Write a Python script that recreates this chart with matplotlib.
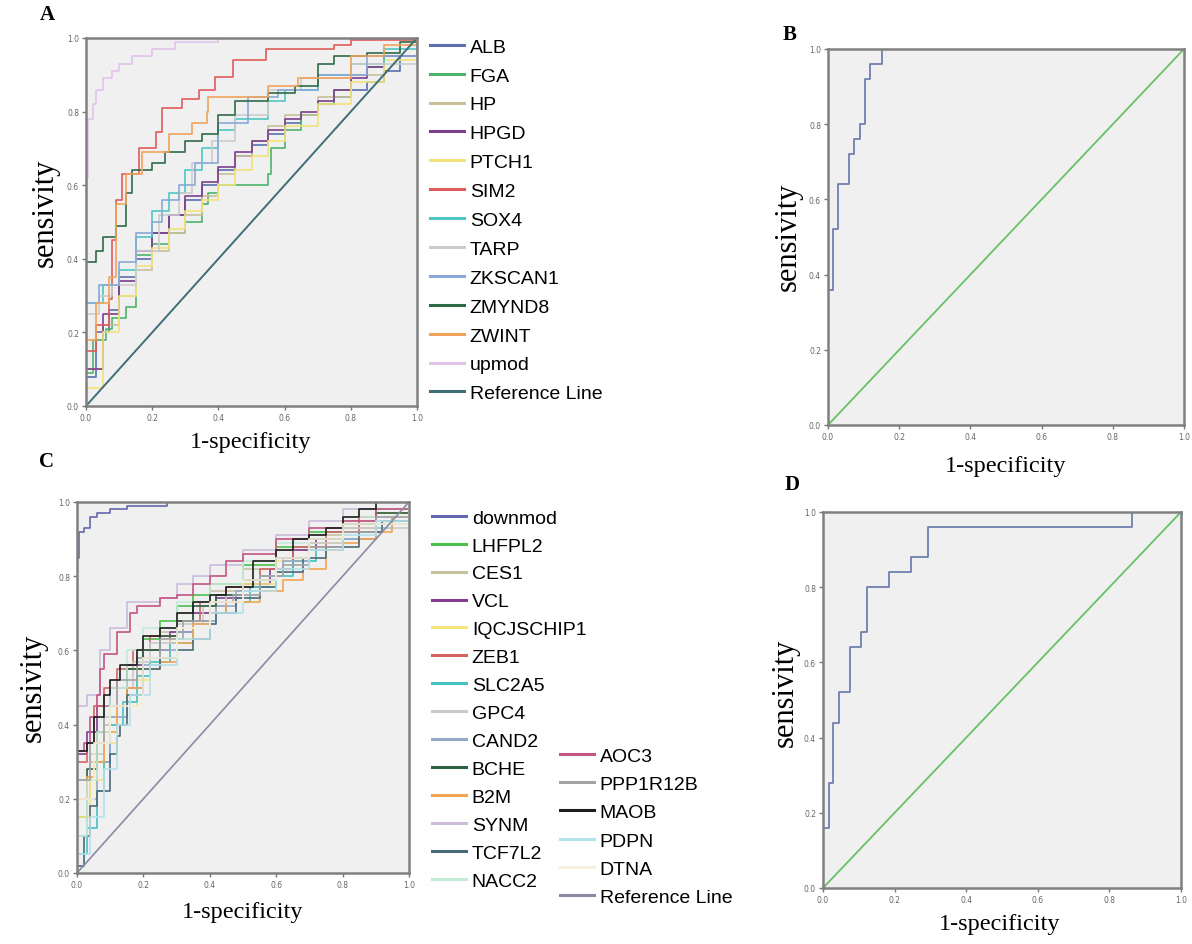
import matplotlib.pyplot as plt
from matplotlib.lines import Line2D

# ---------------- panel A : up-regulated genes ----------------
a_names = ["ALB", "FGA", "HP", "HPGD", "PTCH1", "SIM2", "SOX4", "TARP",
           "ZKSCAN1", "ZMYND8", "ZWINT", "upmod"]

alb = [(0, 0), (0, 0.08), (0.03, 0.2), (0.07, 0.26), (0.1, 0.35), (0.15, 0.4), (0.2, 0.47),
       (0.25, 0.52), (0.3, 0.56), (0.35, 0.6), (0.4, 0.64), (0.45, 0.68), (0.5, 0.71),
       (0.55, 0.74), (0.6, 0.77), (0.65, 0.79), (0.7, 0.82), (0.75, 0.84), (0.8, 0.86),
       (0.85, 0.88), (0.9, 0.91), (0.95, 0.95), (1, 1)]
fga = [(0, 0), (0, 0.09), (0.02, 0.09), (0.02, 0.18), (0.06, 0.18), (0.06, 0.21), (0.08, 0.24),
       (0.12, 0.27), (0.15, 0.36), (0.15, 0.41), (0.2, 0.44), (0.25, 0.47), (0.3, 0.5),
       (0.35, 0.55), (0.37, 0.58), (0.4, 0.6), (0.55, 0.6), (0.55, 0.63), (0.56, 0.7),
       (0.6, 0.75), (0.65, 0.79), (0.7, 0.82), (0.75, 0.86), (0.8, 0.9), (0.85, 0.92),
       (0.9, 0.95), (1, 1)]
hp = [(0, 0), (0, 0.1), (0.05, 0.22), (0.1, 0.3), (0.15, 0.37), (0.2, 0.42), (0.25, 0.47),
      (0.3, 0.52), (0.35, 0.57), (0.4, 0.63), (0.45, 0.68), (0.5, 0.72), (0.55, 0.76),
      (0.6, 0.79), (0.7, 0.84), (0.8, 0.9), (0.9, 0.95), (1, 1)]
hpgd = [(0, 0), (0, 0.1), (0.05, 0.25), (0.1, 0.34), (0.15, 0.42), (0.2, 0.47), (0.25, 0.52),
        (0.3, 0.57), (0.35, 0.61), (0.4, 0.65), (0.45, 0.69), (0.5, 0.72), (0.55, 0.75),
        (0.6, 0.78), (0.65, 0.8), (0.7, 0.83), (0.75, 0.86), (0.8, 0.89), (0.85, 0.92),
        (0.9, 0.95), (1, 1)]
ptch1 = [(0, 0), (0, 0.05), (0.05, 0.2), (0.1, 0.3), (0.15, 0.38), (0.2, 0.43), (0.25, 0.48),
         (0.3, 0.53), (0.35, 0.56), (0.4, 0.6), (0.45, 0.64), (0.5, 0.68), (0.55, 0.72),
         (0.6, 0.76), (0.7, 0.82), (0.8, 0.88), (0.9, 0.94), (1, 1)]
sim2 = [(0, 0), (0, 0.15), (0.03, 0.22), (0.07, 0.29), (0.08, 0.45), (0.09, 0.56), (0.11, 0.63),
        (0.16, 0.7), (0.21, 0.745), (0.23, 0.81), (0.29, 0.835), (0.34, 0.86), (0.39, 0.895),
        (0.445, 0.94), (0.545, 0.97), (0.75, 0.98), (0.8, 0.995), (1, 1)]
sox4 = [(0, 0), (0, 0.28), (0.05, 0.33), (0.1, 0.37), (0.15, 0.46), (0.2, 0.53), (0.25, 0.58),
        (0.3, 0.64), (0.35, 0.7), (0.4, 0.75), (0.45, 0.78), (0.55, 0.83), (0.6, 0.86),
        (0.7, 0.9), (0.8, 0.93), (0.9, 0.97), (1, 1)]
tarp = [(0, 0), (0, 0.25), (0.04, 0.3), (0.08, 0.33), (0.15, 0.42), (0.22, 0.52), (0.28, 0.58),
        (0.32, 0.66), (0.38, 0.72), (0.45, 0.79), (0.55, 0.86), (0.65, 0.89), (0.8, 0.93), (1, 1)]
zkscan1 = [(0, 0), (0, 0.28), (0.04, 0.33), (0.1, 0.39), (0.15, 0.47), (0.2, 0.5), (0.23, 0.56),
           (0.28, 0.6), (0.33, 0.66), (0.4, 0.77), (0.49, 0.77), (0.49, 0.84), (0.58, 0.86),
           (0.7, 0.9), (0.85, 0.95), (1, 1)]
zmynd8 = [(0, 0), (0, 0.39), (0.03, 0.42), (0.05, 0.46), (0.09, 0.49), (0.12, 0.58), (0.14, 0.64),
          (0.2, 0.66), (0.24, 0.69), (0.3, 0.72), (0.35, 0.74), (0.4, 0.79), (0.45, 0.83),
          (0.55, 0.85), (0.63, 0.87), (0.7, 0.93), (0.75, 0.95), (0.85, 0.96), (0.95, 0.99), (1, 1)]
zwint = [(0, 0), (0, 0.18), (0.03, 0.28), (0.07, 0.35), (0.09, 0.55), (0.12, 0.63), (0.17, 0.69),
         (0.25, 0.74), (0.32, 0.77), (0.365, 0.8), (0.37, 0.84), (0.55, 0.87), (0.64, 0.89),
         (0.8, 0.95), (0.9, 0.98), (1, 1)]
upmod = [(0, 0), (0, 0.62), (0.005, 0.78), (0.02, 0.82), (0.03, 0.86), (0.05, 0.89), (0.08, 0.91),
         (0.1, 0.93), (0.14, 0.95), (0.2, 0.97), (0.27, 0.99), (0.4, 1.0), (1, 1)]
a_curves = [alb, fga, hp, hpgd, ptch1, sim2, sox4, tarp, zkscan1, zmynd8, zwint, upmod]

# ---------------- panel B : upmod model ----------------
b_fpr = [0, 0, 0.014, 0.028, 0.058, 0.073, 0.089, 0.105, 0.117, 0.152, 1.0]
b_tpr = [0, 0.36, 0.52, 0.64, 0.72, 0.76, 0.80, 0.92, 0.96, 1.0, 1.0]

# ---------------- panel C : down-regulated genes ----------------
c_names1 = ["downmod", "LHFPL2", "CES1", "VCL", "IQCJSCHIP1", "ZEB1", "SLC2A5", "GPC4",
            "CAND2", "BCHE", "B2M", "SYNM", "TCF7L2", "NACC2"]
c_names2 = ["AOC3", "PPP1R12B", "MAOB", "PDPN", "DTNA"]

downmod = [(0, 0), (0, 0.85), (0.005, 0.92), (0.02, 0.93), (0.04, 0.96), (0.06, 0.97),
           (0.1, 0.98), (0.15, 0.99), (0.27, 1.0), (1, 1)]
lhfpl2 = [(0, 0), (0, 0.15), (0.03, 0.25), (0.06, 0.35), (0.1, 0.45), (0.15, 0.55), (0.2, 0.63),
          (0.25, 0.68), (0.3, 0.72), (0.35, 0.75), (0.4, 0.78), (0.5, 0.83), (0.6, 0.88),
          (0.7, 0.92), (0.8, 0.95), (0.9, 0.98), (1, 1)]
ces1 = [(0, 0), (0, 0.2), (0.04, 0.3), (0.08, 0.4), (0.12, 0.5), (0.18, 0.58), (0.25, 0.65),
        (0.3, 0.7), (0.4, 0.76), (0.5, 0.82), (0.6, 0.87), (0.7, 0.91), (0.8, 0.95), (1, 1)]
vcl = [(0, 0), (0, 0.32), (0.03, 0.38), (0.06, 0.45), (0.1, 0.5), (0.15, 0.56), (0.2, 0.6),
       (0.28, 0.65), (0.35, 0.7), (0.42, 0.74), (0.5, 0.78), (0.58, 0.82), (0.65, 0.87),
       (0.72, 0.9), (0.8, 0.93), (0.9, 0.97), (1, 1)]
iqcjschip1 = [(0, 0), (0, 0.15), (0.04, 0.25), (0.08, 0.35), (0.12, 0.45), (0.18, 0.52),
              (0.22, 0.57), (0.28, 0.63), (0.35, 0.68), (0.42, 0.73), (0.5, 0.78), (0.6, 0.84),
              (0.7, 0.89), (0.8, 0.93), (0.9, 0.97), (1, 1)]
zeb1 = [(0, 0), (0, 0.3), (0.03, 0.35), (0.05, 0.45), (0.08, 0.5), (0.12, 0.55), (0.17, 0.6),
        (0.22, 0.64), (0.3, 0.68), (0.37, 0.73), (0.45, 0.77), (0.55, 0.82), (0.65, 0.88),
        (0.75, 0.92), (0.85, 0.96), (1, 1)]
slc2a5 = [(0, 0), (0, 0.05), (0.03, 0.12), (0.06, 0.22), (0.08, 0.3), (0.1, 0.4), (0.14, 0.46),
          (0.18, 0.53), (0.22, 0.57), (0.28, 0.62), (0.35, 0.67), (0.4, 0.7), (0.45, 0.73),
          (0.52, 0.77), (0.6, 0.8), (0.65, 0.84), (0.72, 0.87), (0.8, 0.9), (0.9, 0.93),
          (0.95, 0.96), (1, 1)]
gpc4 = [(0, 0), (0, 0.25), (0.04, 0.32), (0.08, 0.42), (0.12, 0.5), (0.17, 0.57), (0.22, 0.62),
        (0.3, 0.67), (0.38, 0.72), (0.45, 0.75), (0.55, 0.8), (0.62, 0.85), (0.7, 0.89),
        (0.8, 0.93), (1, 1)]
cand2 = [(0, 0), (0, 0.1), (0.03, 0.2), (0.06, 0.3), (0.1, 0.42), (0.15, 0.5), (0.2, 0.56),
         (0.25, 0.6), (0.3, 0.65), (0.35, 0.68), (0.42, 0.72), (0.48, 0.76), (0.55, 0.8),
         (0.62, 0.84), (0.7, 0.87), (0.8, 0.9), (0.9, 0.94), (1, 1)]
bche = [(0, 0), (0, 0.2), (0.03, 0.28), (0.06, 0.38), (0.1, 0.45), (0.15, 0.55), (0.2, 0.6),
        (0.25, 0.64), (0.3, 0.68), (0.35, 0.72), (0.42, 0.75), (0.5, 0.79), (0.6, 0.85),
        (0.7, 0.9), (0.8, 0.94), (0.9, 0.97), (1, 1)]
b2m = [(0, 0), (0, 0.2), (0.03, 0.26), (0.05, 0.3), (0.08, 0.38), (0.12, 0.45), (0.15, 0.5),
       (0.2, 0.55), (0.25, 0.57), (0.3, 0.62), (0.35, 0.67), (0.4, 0.7), (0.45, 0.73),
       (0.55, 0.76), (0.62, 0.79), (0.68, 0.82), (0.75, 0.87), (0.8, 0.89), (0.85, 0.9),
       (0.9, 0.92), (0.95, 0.96), (1, 1)]
synm = [(0, 0), (0, 0.45), (0.03, 0.48), (0.07, 0.6), (0.1, 0.66), (0.15, 0.73), (0.25, 0.74),
        (0.3, 0.78), (0.35, 0.8), (0.4, 0.83), (0.5, 0.87), (0.6, 0.91), (0.7, 0.95),
        (0.8, 0.98), (1, 1)]
tcf7l2 = [(0, 0), (0, 0.02), (0.02, 0.1), (0.04, 0.18), (0.06, 0.22), (0.1, 0.32), (0.12, 0.37),
          (0.13, 0.4), (0.15, 0.48), (0.2, 0.55), (0.25, 0.58), (0.3, 0.6), (0.35, 0.63),
          (0.4, 0.67), (0.42, 0.7), (0.48, 0.74), (0.55, 0.77), (0.6, 0.81), (0.68, 0.85),
          (0.75, 0.88), (0.85, 0.92), (0.92, 0.95), (1, 1)]
nacc2 = [(0, 0), (0, 0.1), (0.03, 0.25), (0.06, 0.38), (0.1, 0.5), (0.15, 0.6), (0.2, 0.66),
         (0.3, 0.73), (0.4, 0.78), (0.5, 0.84), (0.6, 0.89), (0.7, 0.93), (0.8, 0.96), (1, 1)]
aoc3 = [(0, 0), (0, 0.33), (0.02, 0.35), (0.04, 0.42), (0.06, 0.48), (0.07, 0.55), (0.08, 0.59),
        (0.12, 0.65), (0.16, 0.7), (0.18, 0.72), (0.25, 0.74), (0.3, 0.75), (0.35, 0.78),
        (0.4, 0.8), (0.45, 0.84), (0.5, 0.86), (0.6, 0.9), (0.7, 0.93), (0.8, 0.95),
        (0.9, 0.98), (1, 1)]
ppp1r12b = [(0, 0), (0, 0.25), (0.04, 0.35), (0.08, 0.45), (0.12, 0.52), (0.18, 0.58),
            (0.25, 0.63), (0.32, 0.68), (0.4, 0.73), (0.47, 0.75), (0.55, 0.8), (0.62, 0.83),
            (0.7, 0.88), (0.8, 0.92), (0.9, 0.96), (1, 1)]
maob = [(0, 0), (0, 0.33), (0.03, 0.35), (0.05, 0.42), (0.08, 0.48), (0.1, 0.52), (0.13, 0.56),
        (0.18, 0.6), (0.2, 0.64), (0.25, 0.66), (0.3, 0.7), (0.35, 0.73), (0.4, 0.75),
        (0.45, 0.77), (0.53, 0.8), (0.53, 0.84), (0.6, 0.87), (0.65, 0.9), (0.7, 0.91),
        (0.75, 0.93), (0.8, 0.96), (0.85, 0.98), (0.9, 1.0), (1, 1)]
pdpn = [(0, 0), (0, 0.05), (0.04, 0.15), (0.08, 0.28), (0.12, 0.4), (0.16, 0.48), (0.22, 0.56),
        (0.3, 0.63), (0.4, 0.7), (0.5, 0.76), (0.6, 0.82), (0.7, 0.87), (0.8, 0.91),
        (0.9, 0.95), (1, 1)]
dtna = [(0, 0), (0, 0.2), (0.05, 0.35), (0.1, 0.45), (0.2, 0.58), (0.3, 0.66), (0.4, 0.73),
        (0.5, 0.79), (0.6, 0.85), (0.7, 0.9), (0.8, 0.94), (1, 1)]
c_curves1 = [downmod, lhfpl2, ces1, vcl, iqcjschip1, zeb1, slc2a5, gpc4, cand2, bche, b2m,
             synm, tcf7l2, nacc2]
c_curves2 = [aoc3, ppp1r12b, maob, pdpn, dtna]

# ---------------- panel D : downmod model ----------------
d_fpr = [0, 0, 0.017, 0.028, 0.045, 0.075, 0.105, 0.123, 0.184, 0.247, 0.292, 0.863, 1.0]
d_tpr = [0, 0.16, 0.28, 0.44, 0.52, 0.64, 0.68, 0.80, 0.84, 0.88, 0.96, 1.0, 1.0]

diag = [0, 1]

# colours (style, not data)
a_colors = ["#5b6fae", "#4db36b", "#c9c19a", "#7b3f8c", "#f2e27a", "#e05c5c", "#4fc7c4",
            "#cccccc", "#8aa9d8", "#2f6a48", "#f0a45a", "#e2c4ea"]
a_ref_color = "#3f6e79"
c_colors1 = ["#6468ae", "#4cc04c", "#c8c2a4", "#823c92", "#f4e47c", "#d46464", "#46c2c2",
             "#cacaca", "#93aacb", "#2f6040", "#f2a552", "#cbbcdc", "#4b6b7b", "#c4ead8"]
c_colors2 = ["#c45484", "#a4a4a4", "#1e1e1e", "#b4e2ea", "#f6f0dc"]
c_ref_color = "#8a8aa6"
bd_curve_color = "#7080b0"
bd_ref_color = "#66c266"

W, H = 1192, 945
fig = plt.figure(figsize=(W / 100, H / 100), dpi=100)
serif = ["Liberation Serif", "DejaVu Serif"]
sans = ["Liberation Sans", "DejaVu Sans"]


def make_axes(px_left, px_top, px_right, px_bottom):
    ax = fig.add_axes([px_left / W, 1 - px_bottom / H, (px_right - px_left) / W,
                       (px_bottom - px_top) / H])
    ax.set_facecolor("#f0f0f0")
    ax.set_xlim(0, 1)
    ax.set_ylim(0, 1)
    ticks = [0, 0.2, 0.4, 0.6, 0.8, 1.0]
    ax.set_xticks(ticks)
    ax.set_yticks(ticks)
    ax.set_xticklabels([f"{t:.1f}" for t in ticks])
    ax.set_yticklabels([f"{t:.1f}" for t in ticks])
    ax.tick_params(direction="out", length=3, width=1, color="#777777",
                   labelsize=5.5, labelcolor="#666666", pad=2)
    for s in ax.spines.values():
        s.set_color("#808080")
        s.set_linewidth(1.8)
    return ax


def step_curve(ax, pts, color, lw=1.2):
    xs = [p[0] for p in pts]
    ys = [p[1] for p in pts]
    ax.plot(xs, ys, drawstyle="steps-post", color=color, lw=lw)


def axis_text(ax_x, ax_y, xlab_y, ylab_x):
    fig.text(ax_x / W, 1 - xlab_y / H, "1-specificity", family=serif, fontsize=17.5,
             ha="center", va="center")
    fig.text(ylab_x / W, 1 - ax_y / H, "sensivity", family=serif, fontsize=22,
             rotation=90, ha="center", va="center")


def legend_block(handles, labels, x_px, y_px, spacing):
    fig.legend(handles, labels, loc="upper left", bbox_to_anchor=(x_px / W, 1 - y_px / H),
               frameon=False, prop={"family": sans, "size": 14}, handlelength=1.75,
               handletextpad=0.3, labelspacing=spacing, borderpad=0, borderaxespad=0)


# ---- A ----
axA = make_axes(86, 39, 417, 407)
for pts, col in zip(a_curves, a_colors):
    step_curve(axA, pts, col)
axA.plot(diag, diag, color=a_ref_color, lw=1.4)
axis_text(251, 213, 443, 45)
fig.text(47 / W, 1 - 15 / H, "A", family=serif, fontsize=15, fontweight="bold",
         ha="center", va="center")
hA = [Line2D([], [], color=c, lw=2.2) for c in a_colors + [a_ref_color]]
legend_block(hA, a_names + ["Reference Line"], 430, 39, 0.58)

# ---- B ----
axB = make_axes(828, 50, 1184, 426)
axB.plot(b_fpr, b_tpr, drawstyle="steps-post", color=bd_curve_color, lw=1.3)
axB.plot(diag, diag, color=bd_ref_color, lw=1.3)
axis_text(1006, 237, 467, 788)
fig.text(790 / W, 1 - 35 / H, "B", family=serif, fontsize=15, fontweight="bold",
         ha="center", va="center")

# ---- C ----
axC = make_axes(77, 503, 409, 874)
for pts, col in zip(c_curves1 + c_curves2, c_colors1 + c_colors2):
    step_curve(axC, pts, col)
axC.plot(diag, diag, color=c_ref_color, lw=1.2)
axis_text(243, 688, 913, 33)
fig.text(47 / W, 1 - 462 / H, "C", family=serif, fontsize=15, fontweight="bold",
         ha="center", va="center")
hC1 = [Line2D([], [], color=c, lw=2.2) for c in c_colors1]
legend_block(hC1, c_names1, 432, 510, 0.53)
hC2 = [Line2D([], [], color=c, lw=2.2) for c in c_colors2 + [c_ref_color]]
legend_block(hC2, c_names2 + ["Reference Line"], 560, 748, 0.55)

# ---- D ----
axD = make_axes(823, 513, 1181, 889)
axD.plot(d_fpr, d_tpr, drawstyle="steps-post", color=bd_curve_color, lw=1.3)
axD.plot(diag, diag, color=bd_ref_color, lw=1.3)
axis_text(1000, 693, 925, 785)
fig.text(792 / W, 1 - 485 / H, "D", family=serif, fontsize=15, fontweight="bold",
         ha="center", va="center")

fig.savefig("out.png", dpi=100, facecolor="white")
